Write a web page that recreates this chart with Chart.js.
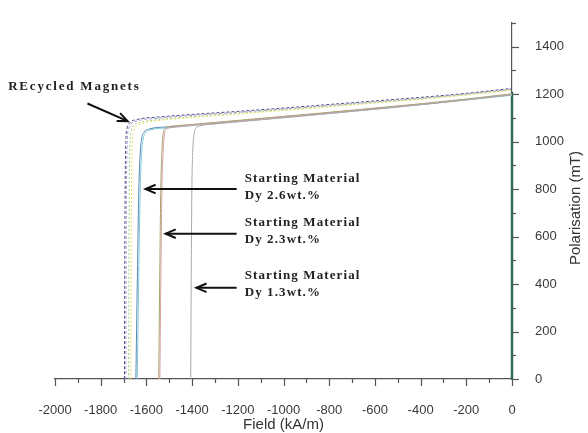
<!DOCTYPE html>
<html>
<head>
<meta charset="utf-8">
<script src="https://cdn.jsdelivr.net/npm/chart.js@4"></script>
<style>
  html, body { margin: 0; padding: 0; background: #fff; }
  #wrap { width: 588px; height: 433px; }
</style>
</head>
<body>
<div id="wrap"><canvas id="demag"></canvas></div>
<script>
// demagnetisation curves (field kA/m, polarisation mT)
const recycledNavyH = [-1696, -1695, -1693, -1690, -1684, -1672, -1645, -1550, -1400, -1200, -1000, -800, -600, -400, -200, 0];
const recycledNavyJ = [0, 400, 800, 1000, 1058, 1080, 1092, 1103, 1114, 1127, 1141, 1156, 1171, 1186, 1203, 1224];
const recycledLilacH = [-1690, -1689, -1687, -1684, -1678, -1667, -1640, -1550, -1400, -1200, -1000, -800, -600, -400, -200, 0];
const recycledLilacJ = [0, 400, 800, 995, 1052, 1074, 1087, 1098, 1110, 1123, 1137, 1152, 1167, 1182, 1200, 1220];
const recycledGreenH = [-1678, -1677, -1675, -1672, -1666, -1655, -1630, -1550, -1400, -1200, -1000, -800, -600, -400, -200, 0];
const recycledGreenJ = [0, 400, 800, 990, 1046, 1068, 1080, 1092, 1105, 1119, 1134, 1149, 1164, 1180, 1198, 1218];
const recycledYellowH = [-1668, -1667, -1665, -1662, -1656, -1645, -1620, -1550, -1400, -1200, -1000, -800, -600, -400, -200, 0];
const recycledYellowJ = [0, 400, 800, 985, 1040, 1063, 1076, 1088, 1101, 1116, 1131, 1146, 1162, 1178, 1196, 1216];

const dy26BlueH = [-1646, -1640, -1633, -1627, -1620, -1610, -1590, -1500, -1400, -1200, -1000, -800, -600, -400, -200, 0];
const dy26BlueJ = [0, 400, 800, 955, 1015, 1040, 1052, 1062, 1070, 1087, 1104, 1121, 1139, 1157, 1177, 1197];
const dy26CyanH = [-1640, -1634, -1627, -1621, -1614, -1604, -1585, -1500, -1400, -1200, -1000, -800, -600, -400, -200, 0];
const dy26CyanJ = [0, 400, 800, 950, 1010, 1036, 1048, 1058, 1067, 1084, 1101, 1118, 1136, 1155, 1175, 1195];

const dy23OliveH = [-1546, -1542, -1537, -1532, -1527, -1519, -1503, -1450, -1400, -1200, -1000, -800, -600, -400, -200, 0];
const dy23OliveJ = [0, 400, 800, 960, 1030, 1054, 1062, 1068, 1072, 1089, 1106, 1123, 1141, 1159, 1179, 1201];
const dy23PinkH = [-1541, -1537, -1532, -1527, -1522, -1514, -1498, -1450, -1400, -1200, -1000, -800, -600, -400, -200, 0];
const dy23PinkJ = [0, 400, 800, 955, 1025, 1050, 1058, 1064, 1069, 1086, 1103, 1120, 1138, 1156, 1176, 1198];

const dy13GrayH = [-1406, -1404, -1401, -1397, -1391, -1383, -1368, -1300, -1200, -1000, -800, -600, -400, -200, 0];
const dy13GrayJ = [0, 400, 800, 960, 1032, 1056, 1065, 1074, 1083, 1100, 1118, 1136, 1155, 1175, 1197];

const closureH = [0, 0];
const closureJ = [1210, 0];

const xTicks = [-2000, -1800, -1600, -1400, -1200, -1000, -800, -600, -400, -200, 0];
const yTicks = [0, 200, 400, 600, 800, 1000, 1200, 1400];

// annotation text and arrows (field, polarisation)
const noteLabels = [['REcycled Magnets'], ['Starting Material', 'Dy 2.6wt.%'], ['Starting Material', 'Dy 2.3wt.%'], ['Starting Material', 'Dy 1.3wt.%']];
const noteH = [-2205, -1170, -1170, -1170];
const noteJ = [1230, 845, 660, 437];
const arrowFromH = [-1858, -1205, -1205, -1205];
const arrowFromJ = [1160, 800, 612, 384];
const arrowToH = [-1682, -1604, -1516, -1381];
const arrowToJ = [1086, 800, 612, 384];

function pts(hs, js) {
  return hs.map((h, i) => ({ x: h, y: js[i] }));
}

function curve(hs, js, color, dash, width) {
  return {
    data: pts(hs, js),
    borderColor: color,
    borderWidth: width || 1,
    borderDash: dash || [],
    pointRadius: 0,
    fill: false,
    clip: 4,
    cubicInterpolationMode: 'monotone'
  };
}

const datasets = [
  curve(dy13GrayH, dy13GrayJ, '#a8a8a8'),
  curve(dy23PinkH, dy23PinkJ, '#d9a0a0'),
  curve(dy23OliveH, dy23OliveJ, '#a4a46a'),
  curve(dy26CyanH, dy26CyanJ, '#7ccbd8'),
  curve(dy26BlueH, dy26BlueJ, '#5a86b4'),
  curve(recycledYellowH, recycledYellowJ, '#e6df5c', [2, 2]),
  curve(recycledGreenH, recycledGreenJ, '#9fd08a', [2, 2]),
  curve(recycledLilacH, recycledLilacJ, '#a89ad0', [3, 2]),
  curve(recycledNavyH, recycledNavyJ, '#4a4e86', [3, 2]),
  curve(closureH, closureJ, '#2f6b52', [], 2.5)
];

const labelFont = { family: '"Liberation Sans", Arial, sans-serif', size: 13 };

// small outward ticks, axis titles and the arrow notes
const decor = {
  id: 'decor',
  afterDraw(chart) {
    const ctx = chart.ctx;
    const xs = chart.scales.x, ys = chart.scales.y;
    const area = chart.chartArea;
    ctx.save();
    ctx.strokeStyle = '#555';
    ctx.lineWidth = 1.2;
    for (let v = -2000; v <= 0; v += 100) {
      const px = Math.round(xs.getPixelForValue(v)) + 0.5;
      const len = v % 200 === 0 ? 7 : 4;
      ctx.beginPath();
      ctx.moveTo(px, area.bottom);
      ctx.lineTo(px, area.bottom + len);
      ctx.stroke();
    }
    for (let v = 0; v <= 1500; v += 100) {
      const py = Math.round(ys.getPixelForValue(v)) + 0.5;
      const len = v % 200 === 0 ? 7 : 4;
      ctx.beginPath();
      ctx.moveTo(area.right, py);
      ctx.lineTo(area.right + len, py);
      ctx.stroke();
    }

    ctx.fillStyle = '#333';
    ctx.font = '15px "Liberation Sans", Arial, sans-serif';
    ctx.textAlign = 'center';
    ctx.textBaseline = 'middle';
    ctx.fillText('Field (kA/m)', (area.left + area.right) / 2, 425);
    ctx.save();
    ctx.translate(576, ys.getPixelForValue(720));
    ctx.rotate(-Math.PI / 2);
    ctx.fillText('Polarisation (mT)', 0, 0);
    ctx.restore();

    ctx.fillStyle = '#222';
    ctx.strokeStyle = '#111';
    ctx.textAlign = 'left';
    noteLabels.forEach((lines, i) => {
      const tx = xs.getPixelForValue(noteH[i]);
      const ty = ys.getPixelForValue(noteJ[i]);
      ctx.font = 'bold 13px "Liberation Serif", "Times New Roman", serif';
      ctx.letterSpacing = i === 0 ? '1.8px' : '1.1px';
      lines.forEach((s, k) => ctx.fillText(s, tx, ty + k * 17));

      const x0 = xs.getPixelForValue(arrowFromH[i]), y0 = ys.getPixelForValue(arrowFromJ[i]);
      const x1 = xs.getPixelForValue(arrowToH[i]), y1 = ys.getPixelForValue(arrowToJ[i]);
      const a = Math.atan2(y1 - y0, x1 - x0);
      ctx.lineWidth = 2;
      ctx.beginPath();
      ctx.moveTo(x0, y0);
      ctx.lineTo(x1, y1);
      ctx.stroke();
      ctx.beginPath();
      ctx.moveTo(x1 - 11 * Math.cos(a - 0.4), y1 - 11 * Math.sin(a - 0.4));
      ctx.lineTo(x1, y1);
      ctx.lineTo(x1 - 11 * Math.cos(a + 0.4), y1 - 11 * Math.sin(a + 0.4));
      ctx.stroke();
    });
    ctx.restore();
  }
};

new Chart(document.getElementById('demag'), {
  type: 'line',
  data: { datasets },
  options: {
    responsive: true,
    maintainAspectRatio: false,
    animation: false,
    layout: { padding: { left: 55, top: 12, right: 0, bottom: 0 } },
    plugins: { legend: { display: false }, tooltip: { enabled: false } },
    scales: {
      x: {
        type: 'linear',
        min: -2000,
        max: 0,
        afterFit: s => { s.height = 54; },
        afterBuildTicks: s => { s.ticks = xTicks.map(v => ({ value: v })); },
        grid: { display: false },
        border: { display: true, color: '#555', width: 1.2 },
        ticks: { padding: 16, maxRotation: 0, autoSkip: false, color: '#3a3a3a', font: labelFont, callback: v => String(v) }
      },
      y: {
        type: 'linear',
        position: 'right',
        min: 0,
        max: 1500,
        afterFit: s => { s.width = 76; },
        afterBuildTicks: s => { s.ticks = yTicks.map(v => ({ value: v })); },
        grid: { display: false },
        border: { display: true, color: '#555', width: 1.2 },
        ticks: { padding: 15, autoSkip: false, color: '#3a3a3a', font: labelFont, callback: v => String(v) }
      }
    }
  },
  plugins: [decor]
});
</script>
</body>
</html>
